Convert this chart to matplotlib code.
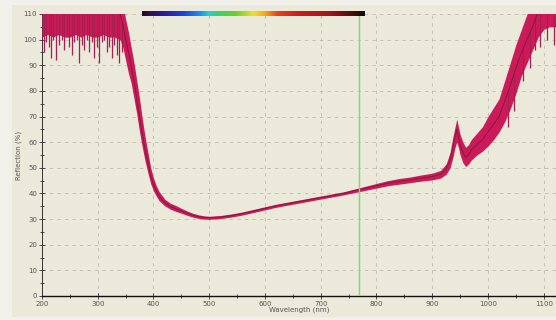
import numpy as np
import matplotlib
matplotlib.use("Agg")
import matplotlib.pyplot as plt
from matplotlib.colors import LinearSegmentedColormap
from matplotlib.patches import Rectangle
from matplotlib.ticker import MultipleLocator

# wavelength grid (nm) with lower / upper edge of the noisy trace and its middle (%)
wavelength = [200, 210, 220, 230, 240, 250, 260, 270, 280, 290, 300, 310, 320, 330, 340, 345,
              350, 355, 360, 365, 370, 375, 380, 385, 390, 395, 400, 405, 410, 420, 430,
              440, 450, 460, 470, 480, 490, 500, 520, 540, 560, 580, 600, 620, 640, 660,
              680, 700, 720, 740, 760, 780, 800, 820, 840, 860, 880, 900, 915, 925, 932,
              937, 941, 944, 947, 950, 955, 960, 965, 970, 980, 990, 1000, 1010, 1020, 1030,
              1040, 1050, 1060, 1070, 1080, 1090, 1100, 1110, 1122]
refl_mid = [112, 112, 112, 112, 112, 112, 112, 112, 112, 112, 112, 112, 112, 112, 110, 106,
            100, 95, 90, 84, 77, 70, 63, 57, 52, 47, 43.5, 41, 39, 36.5, 35,
            34, 33.2, 32.3, 31.5, 31, 30.6, 30.5, 30.8, 31.4, 32.2, 33.2, 34.2, 35.2, 36, 36.8,
            37.6, 38.4, 39.2, 40, 41, 42, 43, 44, 44.7, 45.3, 46, 46.6, 47.5, 49.5, 53,
            58, 62, 65, 62, 59, 56, 54, 55, 57, 59, 61, 64, 67, 70, 76,
            82, 89, 95, 100, 105, 111, 115, 117, 118]
refl_lo = [101, 102, 101, 102, 101, 101, 102, 101, 102, 101, 101, 102, 101, 101, 100, 97,
           92, 87, 83, 77, 71, 64, 58, 52.5, 48, 43.8, 41, 39, 37.2, 35.2, 33.9,
           33, 32.3, 31.5, 30.8, 30.3, 30, 29.9, 30.2, 30.8, 31.6, 32.6, 33.6, 34.6, 35.4, 36.2,
           37, 37.8, 38.6, 39.4, 40.3, 41.2, 42.1, 43, 43.6, 44.2, 44.8, 45.3, 46, 47.5, 50,
           54, 58, 60, 58, 55, 52, 50.5, 51.5, 53, 55, 56.5, 58.5, 61, 64, 68,
           73, 79, 86, 91, 96, 101, 104, 105, 105]
refl_hi = [118, 118, 118, 118, 118, 118, 118, 118, 118, 118, 118, 118, 118, 118, 118, 114,
           108, 103, 97, 91, 84, 77, 69, 62, 56, 50, 46, 43, 40.8, 37.8, 36.2,
           35.3, 34.2, 33.2, 32.3, 31.7, 31.3, 31.1, 31.4, 32, 32.8, 33.8, 34.8, 35.8, 36.6, 37.4,
           38.2, 39, 39.8, 40.6, 41.7, 42.8, 43.9, 45, 45.8, 46.4, 47.2, 47.9, 49, 51.5, 56,
           62, 66, 69, 66, 63, 60, 58, 59, 61, 63.5, 66, 70, 73.5, 77, 84,
           91, 98, 104, 110, 115, 118, 118, 118, 118]

# deep dips of the noise in the saturated parts: wavelength (nm), lowest value (%)
dip_wl = [203, 207, 212, 216, 220, 226, 230, 235, 240, 244, 249, 253, 258, 262, 266,
          271, 275, 280, 284, 289, 293, 298, 303, 307, 312, 316, 321, 325, 330, 334, 338, 343,
          1036, 1047, 1063, 1076, 1085, 1093, 1105, 1118]
dip_refl = [95, 99, 97, 93, 100, 92, 98, 100, 96, 101, 97, 94, 99, 100, 91,
            98, 96, 100, 95, 99, 93, 97, 91, 99, 100, 95, 97, 93, 98, 94, 91, 95,
            66, 72, 84, 89, 96, 97, 100, 98]

x_ticks = [200, 300, 400, 500, 600, 700, 800, 900, 1000, 1100]
y_ticks = [0, 10, 20, 30, 40, 50, 60, 70, 80, 90, 100, 110]
marker_wavelength = 768
visible_band = [380, 780]

spectrum_stops = [(0.00, '#1c0c26'), (0.04, '#341058'), (0.10, '#2a1e9a'), (0.18, '#1f3fd2'),
                  (0.26, '#1e8fe6'), (0.30, '#22d0d8'), (0.34, '#3ad06a'), (0.42, '#6ccf34'),
                  (0.50, '#e6e232'), (0.555, '#f4a41e'), (0.61, '#e0421c'), (0.70, '#cc1e1e'),
                  (0.84, '#a3161c'), (0.93, '#5a0e10'), (1.00, '#140808')]

fig = plt.figure(figsize=(5.56, 3.2), dpi=100)
fig.patch.set_facecolor('#f2f1e9')
fig.patches.append(Rectangle((12 / 556, 3 / 320), 1.0, 1 - 8 / 320, transform=fig.transFigure,
                             facecolor='#ebe9da', edgecolor='none', zorder=-10))

ax = fig.add_axes([42 / 556, 24 / 320, 514 / 556, 282 / 320])
ax.set_facecolor('#ebe9da')

ax.fill_between(wavelength, refl_lo, refl_hi, color='#cc1a58', lw=0, zorder=3)
ax.vlines(dip_wl, dip_refl, np.interp(dip_wl, wavelength, refl_mid),
          color='#a81e50', lw=0.9, zorder=3)
ax.plot(wavelength, refl_mid, color='#7e1c3e', lw=0.7, zorder=5)

ax.axvline(marker_wavelength, color='#7fd87a', lw=1.0, zorder=6)

# visible spectrum strip along the top
cmap = LinearSegmentedColormap.from_list('spec', spectrum_stops)
ax.imshow(np.linspace(0, 1, 256)[None, :], cmap=cmap, aspect='auto',
          extent=[visible_band[0], visible_band[1], 109.1, 110.8], zorder=7, clip_on=False)

ax.set_xlim(200, 1122)
ax.set_ylim(0, 110)
ax.set_xticks(x_ticks)
ax.set_yticks(y_ticks)
ax.xaxis.set_minor_locator(MultipleLocator(50))
ax.yaxis.set_minor_locator(MultipleLocator(5))
ax.tick_params(which='both', direction='inout', length=4, width=0.6, color='#333333',
               labelsize=5, labelcolor='#555555', pad=1.5)
ax.tick_params(which='minor', length=3)

ax.grid(True, which='major', color='#bdbbac', linestyle=(0, (4, 5)), lw=0.6)
ax.set_axisbelow(True)
for side in ['top', 'right']:
    ax.spines[side].set_visible(False)
ax.spines['bottom'].set_linewidth(1.0)
ax.spines['bottom'].set_color('#111111')
ax.spines['left'].set_linewidth(0.7)
ax.spines['left'].set_color('#333333')

ax.set_xlabel('Wavelength (nm)', fontsize=5, color='#555555', labelpad=0)
ax.set_ylabel('Reflection (%)', fontsize=5, color='#555555', labelpad=1)

fig.savefig('out.png', dpi=100, facecolor=fig.get_facecolor())
